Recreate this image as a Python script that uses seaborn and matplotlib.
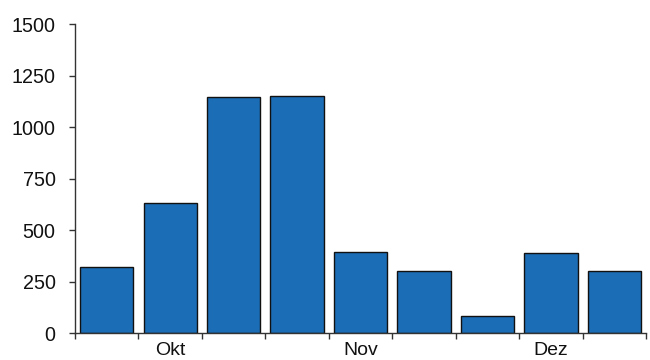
import matplotlib
matplotlib.use("Agg")
import numpy as np
import pandas as pd
import seaborn as sns
import matplotlib.pyplot as plt

# Bar values per period, in display order
periods = list(range(9))
values = [320, 630, 1145, 1150, 393, 302, 85, 390, 302]

# Month labels and the periods they sit under
month_labels = ["Okt", "Nov", "Dez"]
month_positions = [1, 4, 7]

y_ticks = [0, 250, 500, 750, 1000, 1250, 1500]

sns.set_theme(style="ticks")
plt.rcParams["font.family"] = ["Liberation Sans", "DejaVu Sans"]

df = pd.DataFrame({"period": periods, "value": values})

fig = plt.figure(figsize=(6.5, 3.6), dpi=100)
ax = fig.add_axes([0.1154, 0.074, 0.8785, 0.8593])

sns.barplot(data=df, x="period", y="value", order=periods, color="#1b6db6",
            saturation=1, width=0.84, edgecolor="#111111", linewidth=1.0, ax=ax)

ax.set_xlim(-0.5, len(periods) - 0.5)
ax.set_ylim(0, 1500)
ax.set_yticks(y_ticks)
ax.set_yticklabels([str(t) for t in y_ticks])

# Month names centred under their period, tick marks on the period boundaries
ax.set_xticks(month_positions)
ax.set_xticklabels(month_labels)
ax.set_xticks(np.arange(-0.5, len(periods), 1.0), minor=True)
ax.tick_params(axis="x", which="major", length=0, pad=6.5, labelsize=14, labelcolor="#111111")
ax.tick_params(axis="x", which="minor", length=4, width=1, color="#333333")
ax.tick_params(axis="y", length=4, width=1, color="#333333", pad=10, labelsize=14.2, labelcolor="#111111")

ax.set_xlabel("")
ax.set_ylabel("")
for side in ("top", "right"):
    ax.spines[side].set_visible(False)
for side in ("left", "bottom"):
    ax.spines[side].set_color("#333333")
    ax.spines[side].set_linewidth(1)

fig.savefig("out.png", dpi=100)
